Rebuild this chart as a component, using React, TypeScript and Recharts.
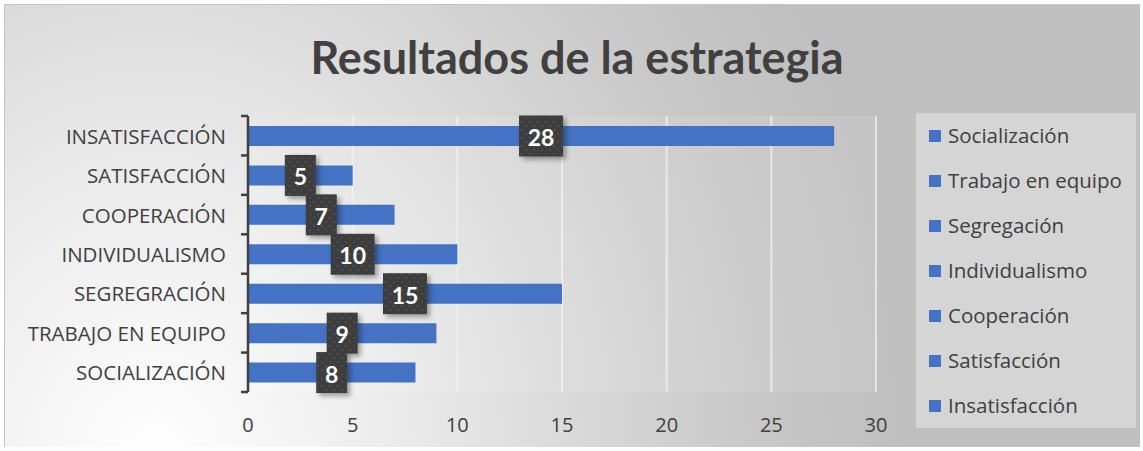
import React from "react";
import { BarChart, Bar, XAxis, YAxis, CartesianGrid, LabelList } from "recharts";

const categories = [
  "INSATISFACCIÓN",
  "SATISFACCIÓN",
  "COOPERACIÓN",
  "INDIVIDUALISMO",
  "SEGREGRACIÓN",
  "TRABAJO EN EQUIPO",
  "SOCIALIZACIÓN ",
];
const values = [28, 5, 7, 10, 15, 9, 8];
const legendNames = [
  "Socialización",
  "Trabajo en equipo",
  "Segregación",
  "Individualismo",
  "Cooperación",
  "Satisfacción",
  "Insatisfacción",
];
const xTicks = [0, 5, 10, 15, 20, 25, 30];

const data = categories.map((name, i) => ({ name, value: values[i] }));

const W = 1136;
const H = 443;
const M = { top: 112, right: 264, left: 0, bottom: 15 };
const X_AXIS_H = 40;
const Y_AXIS_W = 244;
const STEP = (H - M.top - M.bottom - X_AXIS_H) / categories.length;

const INK = "#404040";
const BLUE = "#4472C4";
const FONT = "'Open Sans', Lato, sans-serif";
const TITLE_FONT = "Lato, 'Open Sans', sans-serif";

function YTick(props: any) {
  const { y, payload, index } = props;
  const ax = Y_AXIS_W;
  return (
    <g>
      <text x={ax - 22} y={y} textAnchor="end" dominantBaseline="central" fill={INK} fontSize={20.5} fontFamily={FONT}>
        {payload.value}
      </text>
      <line x1={ax - 7} x2={ax} y1={y - STEP / 2} y2={y - STEP / 2} stroke={INK} strokeWidth={2.5} />
      {index === categories.length - 1 && (
        <line x1={ax - 7} x2={ax} y1={y + STEP / 2} y2={y + STEP / 2} stroke={INK} strokeWidth={2.5} />
      )}
    </g>
  );
}

function BoxLabel(props: any) {
  const { x, y, width, height, value } = props;
  const cx = x + width / 2;
  const cy = y + height / 2;
  const w = String(value).length > 1 ? 44 : 31;
  const h = 41;
  return (
    <g>
      <rect x={cx - w / 2} y={cy - h / 2} width={w} height={h} fill="url(#dots)" filter="url(#shadow)" />
      <text x={cx} y={cy + 1} textAnchor="middle" dominantBaseline="central" fill="#ffffff" fontSize={23} fontWeight={700} fontFamily={TITLE_FONT}>
        {value}
      </text>
    </g>
  );
}

function LegendBox() {
  return (
    <div style={{ position: "absolute", left: 912, top: 109, width: 220, height: 315, background: "#d5d5d5", fontFamily: FONT }}>
      {legendNames.map((n) => (
        <div key={n} style={{ height: 45, display: "flex", alignItems: "center", paddingLeft: 13 }}>
          <span style={{ width: 12, height: 12, background: BLUE, display: "inline-block", marginRight: 7, flex: "none" }} />
          <span style={{ fontSize: 20.5, color: INK, lineHeight: 1, whiteSpace: "nowrap" }}>{n}</span>
        </div>
      ))}
    </div>
  );
}

export default function App() {
  return (
    <div
      style={{
        position: "absolute",
        left: 4,
        top: 4,
        width: W,
        height: H,
        background:
          "radial-gradient(ellipse 750px 900px at 150px 460px, #ffffff 0%, #ededed 30%, #dadada 55%, #c8c8c8 80%, #bfbfbf 100%)",
        boxShadow: "inset 1px 1px 0 0 #c4c4c4",
      }}
    >
      <div
        style={{
          position: "absolute",
          left: 10,
          width: W - 10,
          top: 31,
          textAlign: "center",
          fontFamily: TITLE_FONT,
          fontWeight: 700,
          fontSize: 45,
          lineHeight: 1,
          color: INK,
        }}
      >
        Resultados de la estrategia
      </div>
      <LegendBox />
      <div style={{ position: "absolute", left: 0, top: 0 }}>
        <BarChart width={W} height={H} data={data} layout="vertical" margin={M} barCategoryGap={0}>
          <defs>
            <pattern id="dots" width="8" height="8" patternUnits="userSpaceOnUse">
              <rect width="8" height="8" fill="#3d3d3d" />
              <circle cx="2" cy="2" r="0.9" fill="#555555" />
              <circle cx="6" cy="6" r="0.9" fill="#555555" />
            </pattern>
            <filter id="shadow" x="-30%" y="-30%" width="160%" height="160%">
              <feDropShadow dx="3" dy="3" stdDeviation="2.5" floodColor="#000" floodOpacity="0.35" />
            </filter>
          </defs>
          <CartesianGrid horizontal={false} stroke="#f2f2f2" strokeWidth={2} strokeOpacity={0.75} fill="#ffffff" fillOpacity={0.1} />
          <XAxis
            type="number"
            domain={[0, 30]}
            ticks={xTicks}
            axisLine={false}
            tickLine={false}
            height={X_AXIS_H}
            tickMargin={20}
            tick={{ fill: INK, fontSize: 20, fontFamily: FONT }}
          />
          <YAxis
            type="category"
            dataKey="name"
            width={Y_AXIS_W}
            axisLine={{ stroke: INK, strokeWidth: 2.5 }}
            tickLine={false}
            tick={<YTick />}
            interval={0}
          />
          <Bar dataKey="value" fill={BLUE} barSize={20} isAnimationActive={false}>
            <LabelList dataKey="value" content={<BoxLabel />} />
          </Bar>
        </BarChart>
      </div>
    </div>
  );
}
